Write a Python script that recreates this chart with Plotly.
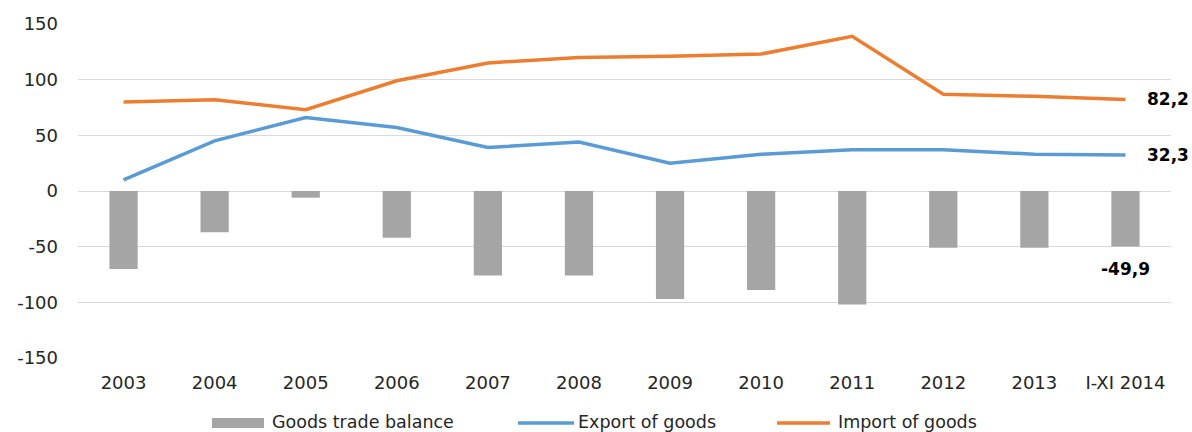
import plotly.graph_objects as go

categories = ["2003", "2004", "2005", "2006", "2007", "2008", "2009", "2010",
              "2011", "2012", "2013", "I-XI 2014"]
balance = [-70, -37, -6, -42, -76, -76, -97, -89, -102, -51, -51, -49.9]
export = [10, 45, 66, 57, 39, 44, 25, 33, 37, 37, 33, 32.3]
imports = [80, 82, 73, 99, 115, 120, 121, 123, 139, 87, 85, 82.2]
y_ticks = [-150, -100, -50, 0, 50, 100, 150]
y_tick_labels = ["-150", "-100", "-50", "0", "50", "100", "150"]
names = ["Goods trade balance", "Export of goods", "Import of goods"]

GRAY = "#A5A5A5"
BLUE = "#5B9BD5"
ORANGE = "#ED7D31"
FONT = "DejaVu Sans"
TXT = "#262626"

W, H = 1192, 432
L, R, T, B = 78, 21, 24, 74
PW, PH = W - L - R, H - T - B


def px(xp):
    return (xp - L) / PW


def py(yp):
    return (H - B - yp) / PH


fig = go.Figure()
fig.add_trace(go.Bar(x=categories, y=balance, name=names[0], marker_color=GRAY,
                     marker_line_width=0, showlegend=False))
fig.add_trace(go.Scatter(x=categories, y=export, name=names[1], mode="lines",
                         line=dict(color=BLUE, width=3.5), showlegend=False))
fig.add_trace(go.Scatter(x=categories, y=imports, name=names[2], mode="lines",
                         line=dict(color=ORANGE, width=3.5), showlegend=False))


def fmt(v):
    return f"{v:.1f}".replace(".", ",")


annotations = [
    dict(x=categories[-1], y=imports[-1], text=f"<b>{fmt(imports[-1])}</b>",
         xref="x", yref="y", xanchor="left", yanchor="middle", xshift=20,
         showarrow=False, font=dict(family=FONT, size=17, color="#000000")),
    dict(x=categories[-1], y=export[-1], text=f"<b>{fmt(export[-1])}</b>",
         xref="x", yref="y", xanchor="left", yanchor="middle", xshift=20,
         showarrow=False, font=dict(family=FONT, size=17, color="#000000")),
    dict(x=categories[-1], y=balance[-1], text=f"<b>{fmt(balance[-1])}</b>",
         xref="x", yref="y", xanchor="center", yanchor="top", yshift=-10,
         showarrow=False, font=dict(family=FONT, size=17, color="#000000")),
]

# custom legend
legend_y = 423
shapes = [
    dict(type="rect", xref="paper", yref="paper", x0=px(212), x1=px(264),
         y0=py(428), y1=py(418), fillcolor=GRAY, line=dict(width=0)),
    dict(type="line", xref="paper", yref="paper", x0=px(518), x1=px(574),
         y0=py(legend_y), y1=py(legend_y), line=dict(color=BLUE, width=3.5)),
    dict(type="line", xref="paper", yref="paper", x0=px(777), x1=px(830),
         y0=py(legend_y), y1=py(legend_y), line=dict(color=ORANGE, width=3.5)),
]
for xs, name in zip([270, 576, 836], names):
    annotations.append(dict(x=px(xs), y=py(legend_y - 1), xref="paper", yref="paper",
                            text=name, xanchor="left", yanchor="middle", showarrow=False,
                            font=dict(family=FONT, size=17.5, color=TXT)))

fig.update_layout(
    width=W, height=H,
    margin=dict(l=L, r=R, t=T, b=B, pad=0),
    paper_bgcolor="white", plot_bgcolor="white",
    bargap=0.69,
    font=dict(family=FONT, size=18, color=TXT),
    annotations=annotations,
    shapes=shapes,
    showlegend=False,
)
fig.update_xaxes(type="category", range=[-0.5, len(categories) - 0.5],
                 showgrid=False, showline=False, zeroline=False, ticks="",
                 ticklabelstandoff=12,
                 tickfont=dict(family=FONT, size=18, color=TXT))
fig.update_yaxes(range=[-150, 150], tickvals=y_ticks, ticktext=y_tick_labels,
                 showgrid=True, gridcolor="#D9D9D9", gridwidth=1, zeroline=True,
                 zerolinecolor="#D9D9D9", zerolinewidth=1, showline=False,
                 ticks="", ticklabelstandoff=19,
                 tickfont=dict(family=FONT, size=18, color=TXT))

fig.write_html("out.html")
